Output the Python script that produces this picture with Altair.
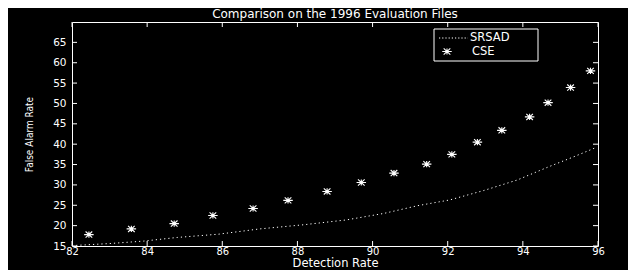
import altair as alt
import pandas as pd

# ---- data ----
cse_x = [82.45, 83.58, 84.72, 85.75, 86.82, 87.75, 88.79, 89.70, 90.57,
         91.44, 92.11, 92.79, 93.44, 94.18, 94.67, 95.27, 95.80]
cse_y = [17.8, 19.2, 20.5, 22.5, 24.2, 26.2, 28.4, 30.6, 32.9,
         35.1, 37.5, 40.5, 43.4, 46.7, 50.2, 53.9, 58.0]

srsad_x = [82.0, 83.0, 83.9, 84.8, 85.9, 87.0, 88.15, 89.3, 90.3,
           91.2, 92.05, 92.95, 93.85, 94.7, 95.3, 95.9]
srsad_y = [15.1, 15.6, 16.2, 17.1, 17.9, 19.2, 20.2, 21.4, 23.0,
           24.9, 26.3, 28.6, 31.2, 34.5, 36.7, 39.0]

x_ticks = [82, 84, 86, 88, 90, 92, 94, 96]
y_ticks = [15, 20, 25, 30, 35, 40, 45, 50, 55, 60, 65]
x_domain = [82, 96]
y_domain = [15, 70]

series_names = ["SRSAD", "CSE"]
title_text = "Comparison on the 1996 Evaluation Files"
x_title = "Detection Rate"
y_title = "False Alarm Rate"

# ---- layout ----
W, H = 526, 224
TICK = 5
FONT = "DejaVu Sans"
STAR = "M-1,0L1,0M0,-0.65L0,0.65M-0.7,-0.65L0.7,0.65M-0.7,0.65L0.7,-0.65"

xs = alt.Scale(domain=x_domain, nice=False, zero=False)
ys = alt.Scale(domain=y_domain, nice=False, zero=False)

x_axis = alt.Axis(values=x_ticks, title=x_title, grid=False, domain=False,
                  ticks=False, tickSize=0, labelPadding=0, labelFont=FONT,
                  labelFontSize=10, labelColor="white", titleColor="white",
                  titleFont=FONT, titleFontSize=11.5, titleFontWeight="normal",
                  titleY=11.8, titleBaseline="top", labelFlush=False)
y_axis = alt.Axis(values=y_ticks, title=y_title, grid=False, domain=False,
                  ticks=False, tickSize=0, labelPadding=6, labelFont=FONT,
                  labelFontSize=10.5, labelColor="white", titleColor="white",
                  titleFont="DejaVu Sans Condensed, DejaVu Sans",
                  titleFontSize=10, titleFontWeight="normal",
                  titleX=-43, titleY=H / 2, titleAngle=-90,
                  titleBaseline="middle", titleAlign="center", labelFlush=False)

xenc = alt.X("x:Q", scale=xs, axis=x_axis)
yenc = alt.Y("y:Q", scale=ys, axis=y_axis)

srsad = pd.DataFrame({"x": srsad_x, "y": srsad_y})
cse = pd.DataFrame({"x": cse_x, "y": cse_y})
xt = pd.DataFrame({"x": x_ticks})
yt = pd.DataFrame({"y": y_ticks})
one = pd.DataFrame({"k": [0]})

line = alt.Chart(srsad).mark_line(color="white", strokeDash=[1.2, 3],
                                  strokeWidth=1).encode(x=xenc, y=yenc)
stars = alt.Chart(cse).mark_point(shape=STAR, size=90, filled=False,
                                  color="white", strokeWidth=1.1,
                                  opacity=1).encode(x=xenc, y=yenc)

tick_bottom = alt.Chart(xt).mark_rule(color="white").encode(
    x=xenc, y=alt.value(H - TICK), y2=alt.value(H))
tick_top = alt.Chart(xt).mark_rule(color="white").encode(
    x=xenc, y=alt.value(0), y2=alt.value(TICK))
tick_left = alt.Chart(yt).mark_rule(color="white").encode(
    y=yenc, x=alt.value(0), x2=alt.value(TICK))
tick_right = alt.Chart(yt).mark_rule(color="white").encode(
    y=yenc, x=alt.value(W - TICK), x2=alt.value(W))

# ---- legend (box in upper right) ----
lg_box = alt.Chart(one).mark_rect(fill="black", stroke="white",
                                  strokeWidth=1).encode(
    x=alt.value(362), x2=alt.value(466), y=alt.value(7), y2=alt.value(39))
lg_line = alt.Chart(one).mark_rule(color="white", strokeDash=[1.2, 2],
                                   strokeWidth=1).encode(
    x=alt.value(367), x2=alt.value(396), y=alt.value(16))
lg_star = alt.Chart(one).mark_point(shape=STAR, size=90, filled=False,
                                    color="white", strokeWidth=1.1,
                                    opacity=1).encode(
    x=alt.value(375), y=alt.value(29.5))
lg_t1 = alt.Chart(one).mark_text(color="white", font=FONT, fontSize=11.5,
                                 align="left", baseline="middle").encode(
    x=alt.value(398), y=alt.value(16), text=alt.value(series_names[0]))
lg_t2 = alt.Chart(one).mark_text(color="white", font=FONT, fontSize=11.5,
                                 align="left", baseline="middle").encode(
    x=alt.value(400), y=alt.value(29.5), text=alt.value(series_names[1]))

chart = alt.layer(
    line, stars, tick_bottom, tick_top, tick_left, tick_right,
    lg_box, lg_line, lg_star, lg_t1, lg_t2
).properties(
    width=W, height=H,
    title=alt.Title(title_text, font=FONT, fontSize=12, fontWeight="normal",
                    color="white", anchor="middle", offset=1,
                    baseline="top"),
    autosize=alt.AutoSizeParams(type="none"),
    padding={"left": 64, "top": 14, "right": 30, "bottom": 24},
    background="black",
).configure_view(stroke="white", strokeWidth=1)

chart.save("out.html", embed_options={"renderer": "svg", "actions": False})
